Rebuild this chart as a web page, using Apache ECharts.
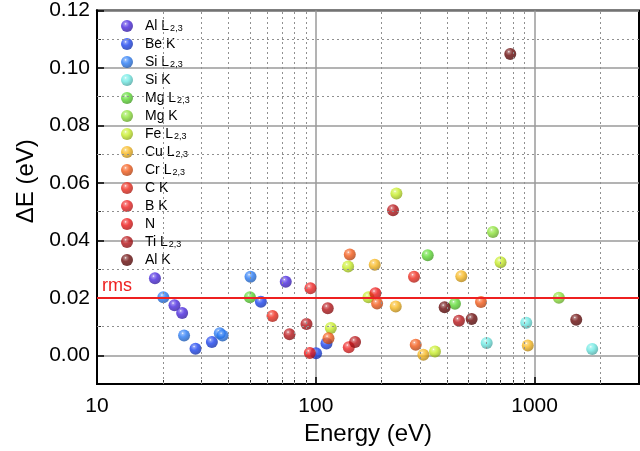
<!DOCTYPE html>
<html>
<head>
<meta charset="utf-8">
<script src="https://cdn.jsdelivr.net/npm/echarts@6/dist/echarts.min.js"></script>
<style>html,body{margin:0;padding:0;background:#fff}#c{width:640px;height:451px}</style>
</head>
<body>
<div id="c"></div>
<script>
// ---- data (Energy eV, ΔE eV) ----
const seriesNames = ['Al L2,3','Be K','Si L2,3','Si K','Mg L2,3','Mg K','Fe L2,3','Cu L2,3','Cr L2,3','C K','B K','N','Ti L2,3','Al K'];
const alL23 = [[18.4,0.0268],[22.6,0.0174],[24.5,0.0147],[72.9,0.0256]];
const beK   = [[28.2,0.0023],[33.5,0.0046],[56.1,0.0186],[100.3,0.0007],[111.9,0.0041]];
const siL23 = [[20.1,0.0202],[25.0,0.0069],[36.4,0.0077],[37.5,0.0069],[50.3,0.0273]];
const siK   = [[604,0.0043],[916,0.0113],[1833,0.0022]];
const mgL23 = [[50.0,0.0202],[324.7,0.0348],[432.5,0.0179]];
const mgK   = [[645,0.0429],[1291,0.0200]];
const feL23 = [[117.1,0.0095],[140.5,0.0309],[174,0.0202],[233.6,0.0563],[350.5,0.0013],[699,0.0324]];
const cuL23 = [[185.9,0.0315],[231.9,0.0170],[310.2,0.0002],[462.4,0.0275],[931,0.0034]];
const crL23 = [[114.3,0.0059],[143.0,0.0351],[190.6,0.0180],[286.2,0.0037],[568.7,0.0185]];
const cK    = [[63.4,0.0137],[281.1,0.0273]];
const bK    = [[94.5,0.0233],[141.5,0.0028]];
const nK    = [[93.9,0.0008],[187.3,0.0216]];
const tiL23 = [[75.8,0.0073],[90.7,0.0109],[113.4,0.0164],[151.2,0.0046],[225.4,0.0505],[451,0.0120]];
const alK   = [[388,0.0167],[515.6,0.0126],[774,0.1049],[1550,0.0124]];
const seriesData = [alL23,beK,siL23,siK,mgL23,mgK,feL23,cuL23,crL23,cK,bK,nK,tiL23,alK];
const rmsValue = 0.02;
const xMajorTicks = [10,100,1000];
const xMinorTicks = [20,30,40,50,60,70,80,90,200,300,400,500,600,700,800,900,2000];
const yMajorTicks = [0,0.02,0.04,0.06,0.08,0.10,0.12];
const yMinorTicks = [0.01,0.03,0.05,0.07,0.09,0.11];

// ---- styles ----
const colors = ['#4a28e0','#1c44f0','#2a7cf6','#6eeae4','#5edc34','#8ee43a','#c8ee28','#f8b81e','#f45a18','#f02a1c','#f02222','#ee1818','#b81418','#6a0a0a'];
const FONT = '"Liberation Sans", Arial, Helvetica, sans-serif';
function hexToRgb(h){h=h.replace('#','');return [0,2,4].map(i=>parseInt(h.substr(i,2),16));}
function mix(h,t,target){const c=hexToRgb(h);return 'rgb('+c.map(v=>Math.round(v+(target-v)*t)).join(',')+')';}
function ball(c){
  return new echarts.graphic.RadialGradient(0.38,0.32,0.7,[
    {offset:0,color:'#ffffff'},
    {offset:0.14,color:mix(c,0.35,255)},
    {offset:0.45,color:c},
    {offset:1,color:mix(c,0.3,0)}
  ]);
}
const dotted = {color:'#909090',width:1,type:[2,3]};
const series = seriesNames.map((n,i)=>({
  name:n, type:'scatter', xAxisIndex:0, yAxisIndex:0,
  symbol:'circle', symbolSize:12,
  itemStyle:{color:ball(colors[i])},
  data:seriesData[i], z:3
}));
// minor (dotted) grid lines at the minor tick values, placed through the (minor) axes
series.push({
  name:'minorGrid', type:'scatter', data:[], xAxisIndex:1, yAxisIndex:1, z:1,
  markLine:{silent:true, symbol:['none','none'], label:{show:false},
    lineStyle:dotted,
    data:xMinorTicks.map(v=>({xAxis:v})).concat(yMinorTicks.map(v=>({yAxis:v})))}
});
series.push({
  name:'rms', type:'scatter', data:[], xAxisIndex:0, yAxisIndex:0, z:2,
  markLine:{silent:true, symbol:['none','none'],
    lineStyle:{color:'#ee2020',width:2,type:'solid'},
    label:{show:true,position:'insideStartTop',formatter:'rms',color:'#ee2020',fontSize:18,fontFamily:FONT,distance:[5,3]},
    data:[{yAxis:rmsValue}]}
});

const chart = echarts.init(document.getElementById('c'),null,{renderer:'canvas'});
chart.setOption({
  animation:false,
  backgroundColor:'#fff',
  grid:{left:97,right:1,top:9,bottom:67,show:true,borderColor:'#000',borderWidth:2,backgroundColor:'transparent'},
  legend:{
    data:seriesNames, orient:'vertical', left:121, top:12, padding:0,
    itemWidth:12, itemHeight:12, itemGap:-3, icon:'circle', selectedMode:false,
    formatter:function(name){
      const m = name.match(/^(.*L)2,3$/);
      if(m) return '{n|'+m[1]+'}{s|2,3}';
      return '{n|'+name+'}{s| }';
    },
    textStyle:{fontFamily:FONT,fontSize:14,color:'#000',
      rich:{
        n:{fontFamily:FONT,fontSize:14,lineHeight:14,color:'#000',padding:[0,0,0,7]},
        s:{fontFamily:FONT,fontSize:9,lineHeight:14,color:'#000',verticalAlign:'bottom',padding:[12,0,0,1]}
      }}
  },
  xAxis:[
    {type:'log',logBase:10,min:10,max:3000,position:'bottom',
      name:'Energy (eV)',nameLocation:'middle',nameGap:34,
      nameTextStyle:{fontFamily:FONT,fontSize:24,color:'#000'},
      axisLine:{show:true,onZero:false,lineStyle:{color:'#000',width:2}},
      axisTick:{show:true,inside:true,length:7,customValues:xMajorTicks,lineStyle:{color:'#000',width:1.5}},
      axisLabel:{show:true,customValues:xMajorTicks,margin:12,fontFamily:FONT,fontSize:21,color:'#000',formatter:v=>String(Math.round(v))},
      splitLine:{show:true,lineStyle:{color:'#9a9a9a',width:1.5}}},
    {type:'log',logBase:10,min:10,max:3000,position:'bottom',offset:0,
      axisLine:{show:true,onZero:false,lineStyle:{color:'#000',width:2}},
      axisTick:{show:true,inside:true,length:4,customValues:xMinorTicks,lineStyle:{color:'#333',width:1}},
      axisLabel:{show:false},
      splitLine:{show:false}}
  ],
  yAxis:[
    {type:'value',min:-0.01,max:0.12,position:'left',
      name:'\u0394E (eV)',nameLocation:'middle',nameGap:54,
      nameTextStyle:{fontFamily:FONT,fontSize:24,color:'#000',padding:[0,0,0,32]},
      axisLine:{show:true,onZero:false,lineStyle:{color:'#000',width:2}},
      axisTick:{show:true,inside:true,length:7,customValues:yMajorTicks,lineStyle:{color:'#000',width:1.5}},
      axisLabel:{show:true,customValues:yMajorTicks,margin:7,fontFamily:FONT,fontSize:21,color:'#000',formatter:v=>v.toFixed(2)},
      splitLine:{show:true,lineStyle:{color:'#9a9a9a',width:1.5}}},
    {type:'value',min:-0.01,max:0.12,position:'left',offset:0,
      axisLine:{show:true,onZero:false,lineStyle:{color:'#000',width:2}},
      axisTick:{show:true,inside:true,length:4,customValues:yMinorTicks,lineStyle:{color:'#333',width:1}},
      axisLabel:{show:false},
      splitLine:{show:false}}
  ],
  series:series
});
</script>
</body>
</html>
